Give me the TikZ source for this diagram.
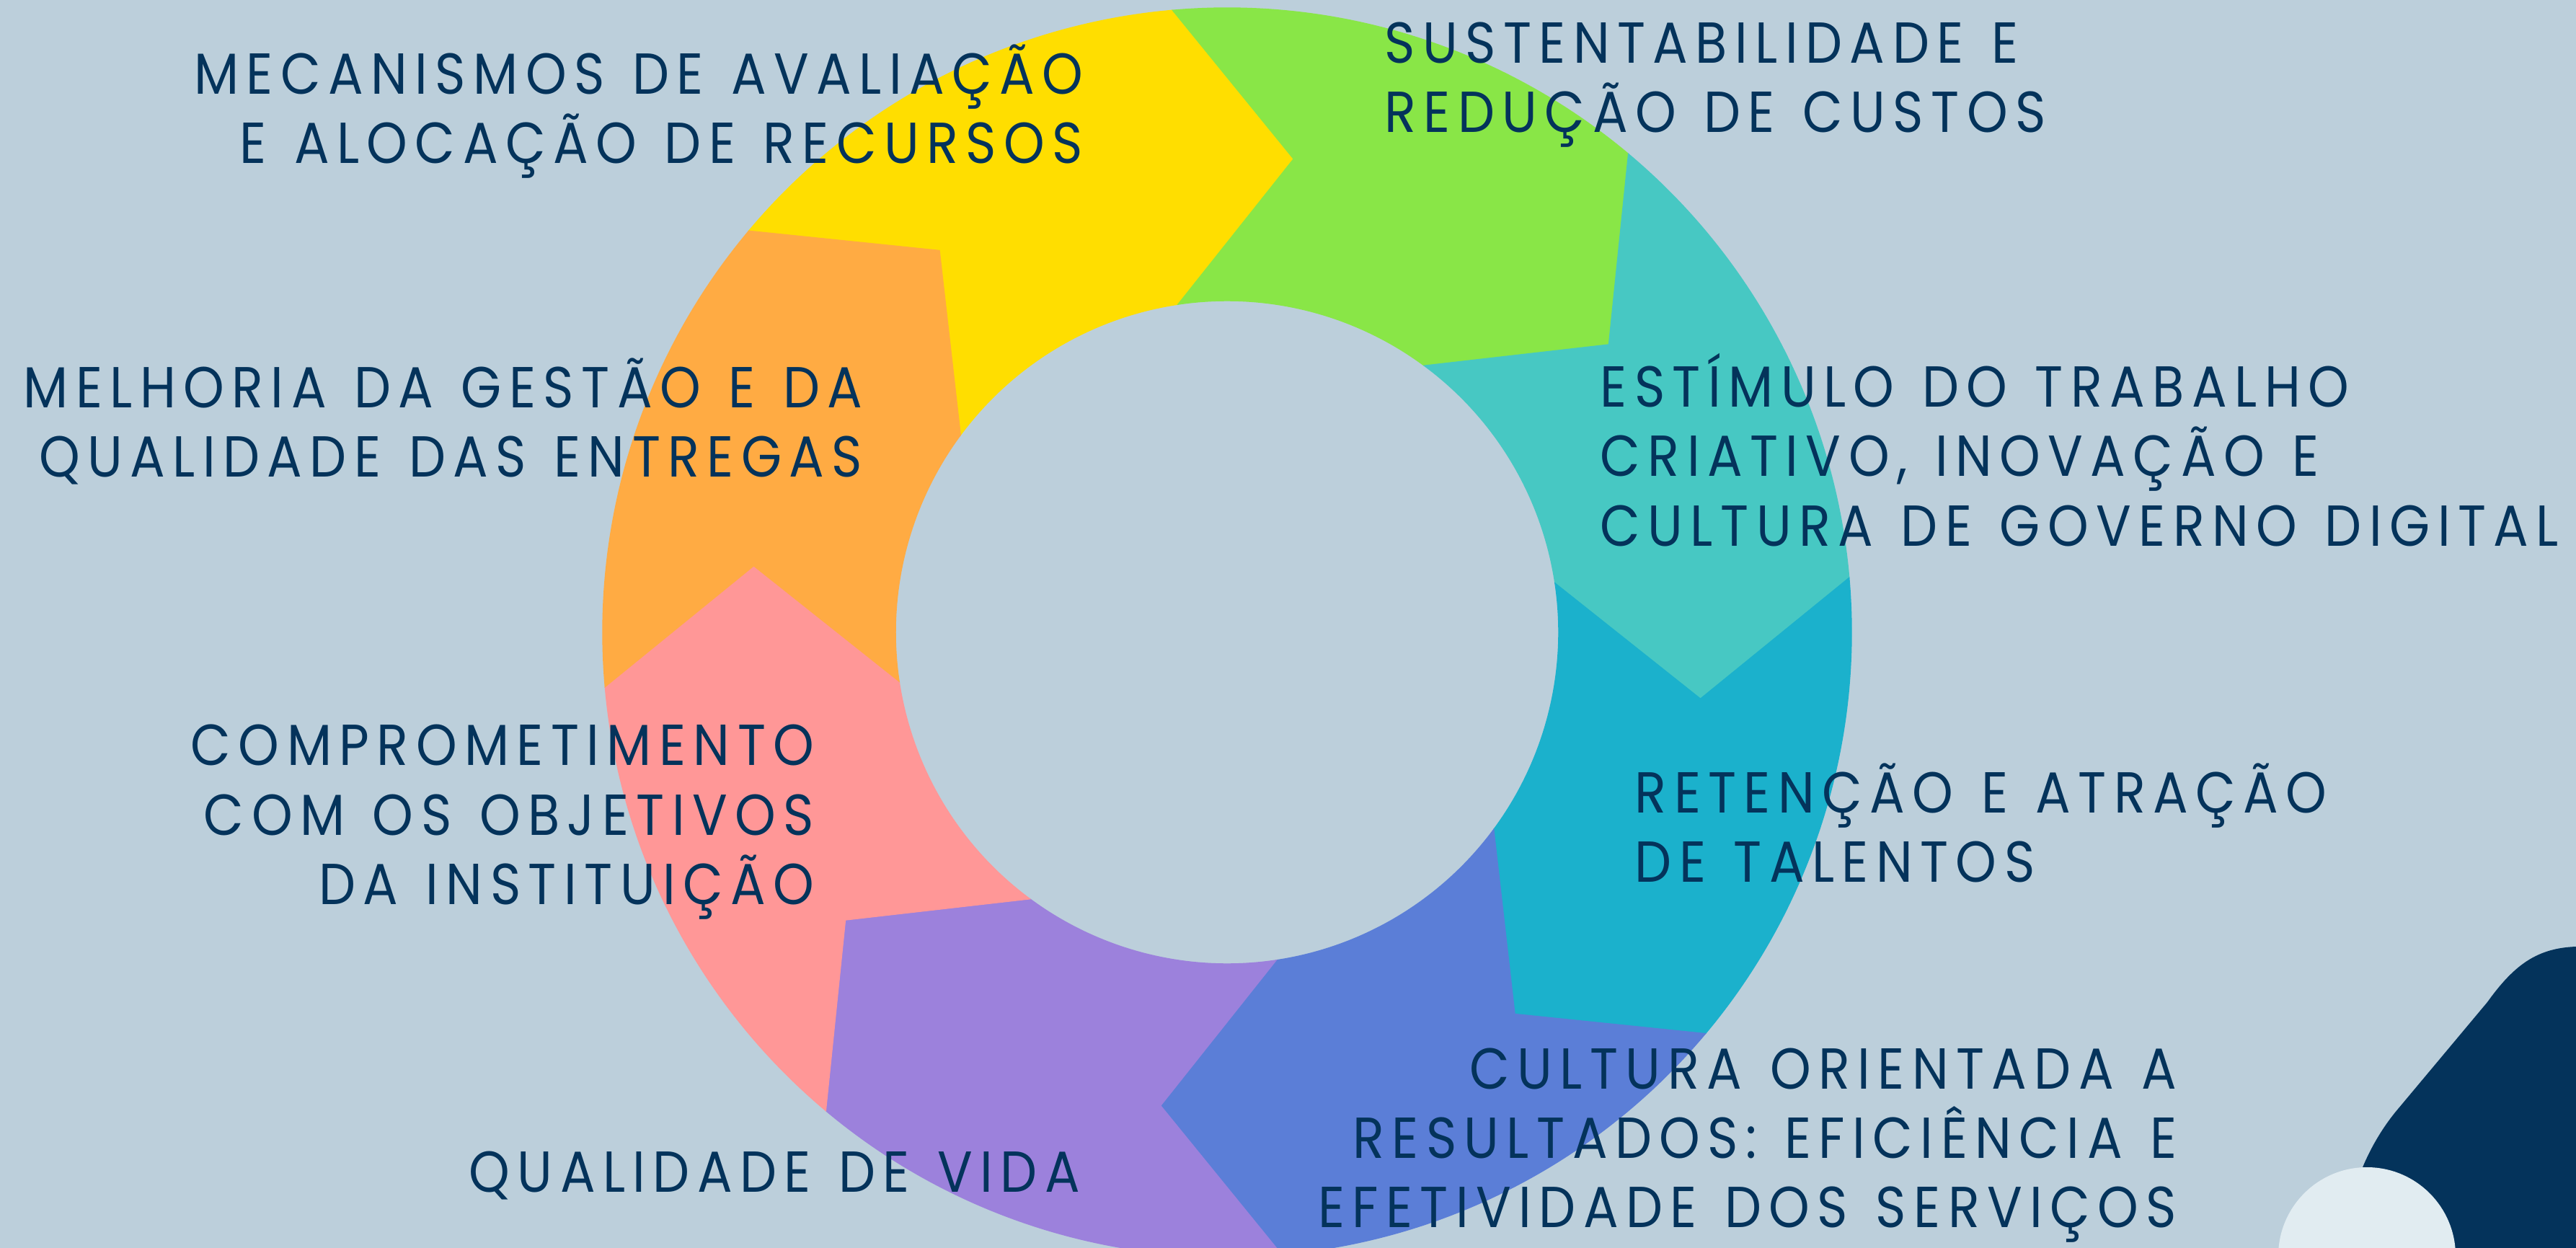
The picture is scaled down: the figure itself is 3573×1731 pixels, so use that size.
\documentclass[tikz,border=0pt]{standalone}
\usepackage{fontspec}
\setmainfont{Poppins}[FakeStretch=0.9,LetterSpace=13,WordSpace=1.3]
\usepackage{tikz}

\definecolor{bgblue}{HTML}{BCCFDB}
\definecolor{navy}{HTML}{04335B}
\definecolor{paleblue}{HTML}{E1ECF1}
\definecolor{segyellow}{HTML}{FFDE00}
\definecolor{seggreen}{HTML}{89E647}
\definecolor{segteal}{HTML}{47C8C3}
\definecolor{segcyan}{HTML}{1BB1CC}
\definecolor{segindigo}{HTML}{5B7ED7}
\definecolor{segpurple}{HTML}{9C81DC}
\definecolor{segpink}{HTML}{FF9797}
\definecolor{segorange}{HTML}{FFAB43}

\newcommand{\itemfont}{\fontsize{22.8pt}{27.3pt}\selectfont}

\begin{document}
\begin{tikzpicture}[x=0.01cm,y=-0.01cm,
    txt/.style={inner sep=0pt,text=navy,font=\itemfont},
    txtleft/.style={txt,anchor=base west,align=left},
    txtright/.style={txt,anchor=base east,align=right}]
  \useasboundingbox (0,0) rectangle (3573,1731);
  \clip (0,0) rectangle (3573,1731);
  \fill[bgblue] (0,0) rectangle (3573,1731);

  % ring of eight arrows, pointing clockwise
  \begin{scope}[shift={(1702,877)},y=0.01cm]
    \foreach \a/\col in {140/segyellow,95/seggreen,50/segteal,5/segcyan,
                         -40/segindigo,-85/segpurple,-130/segpink,-175/segorange}
      \filldraw[fill=\col,draw=\col,line width=0.4pt]
        (\a:866) arc[start angle=\a,end angle=\a-45,radius=866]
        -- ({\a-58}:663) -- ({\a-41.5}:460)
        arc[start angle=\a-41.5,end angle=\a+3.5,radius=460]
        -- ({\a-13}:663) -- cycle;
  \end{scope}

  % corner decoration
  \fill[navy] (3573,1313) .. controls (3520,1315) and (3488,1337) .. (3450,1390)
    -- (3322,1543) .. controls (3290,1583) and (3260,1640) .. (3248,1731)
    -- (3573,1731) -- cycle;
  \fill[paleblue] (3283,1742) circle[radius=123];

  % labels (anchored at the baseline of their last line)
  \node[txtright] (mecanismos) at (1503,227) {MECANISMOS DE AVALIAÇÃO\\E ALOCAÇÃO DE RECURSOS};
  \node[txtleft] (sustent) at (1920,184) {SUSTENTABILIDADE E\\REDUÇÃO DE CUSTOS};
  \node[txtright] (melhoria) at (1197,662) {MELHORIA DA GESTÃO E DA\\QUALIDADE DAS ENTREGAS};
  \node[txtleft] (estimulo) at (2219,757) {ESTÍMULO DO TRABALHO\\CRIATIVO, INOVAÇÃO E\\CULTURA DE GOVERNO DIGITAL};
  \node[txtright] (comprom) at (1130,1254) {COMPROMETIMENTO\\COM OS OBJETIVOS\\DA INSTITUIÇÃO};
  \node[txtleft] (retencao) at (2267,1223) {RETENÇÃO E ATRAÇÃO\\DE TALENTOS};
  \node[txtright] (cultura) at (3020,1702) {CULTURA ORIENTADA A\\RESULTADOS: EFICIÊNCIA E\\EFETIVIDADE DOS SERVIÇOS};
  \node[txtleft] (qualidade) at (650,1653) {QUALIDADE DE VIDA};
\end{tikzpicture}
\end{document}
